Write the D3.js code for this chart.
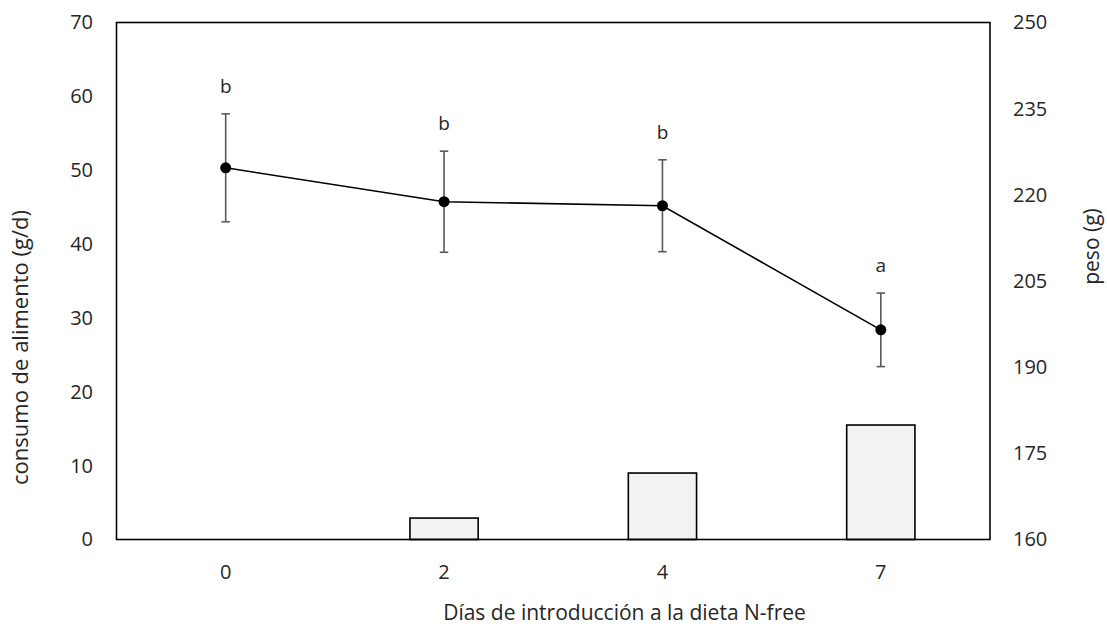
<!DOCTYPE html>
<html><head><meta charset="utf-8">
<script src="https://cdn.jsdelivr.net/npm/d3@7"></script>
<style>body{margin:0;background:#fff}text{font-family:"Open Sans",sans-serif;fill:#262626}</style>
</head><body><svg id="c" width="1107" height="628"></svg>
<script>
const days = ["0","2","4","7"];
const consumo = [0, 2.9, 9.0, 15.5];
const peso = [224.7, 218.8, 218.1, 196.5];
const pesoErr = [9.4, 8.8, 8.0, 6.4];
const letters = ["b","b","b","a"];
const leftTicks = [0,10,20,30,40,50,60,70];
const rightTicks = [160,175,190,205,220,235,250];

const svg = d3.select("#c");
const m = {l:116.5, r:990, t:22.5, b:539.5};
const x = d3.scaleBand().domain(days).range([m.l, m.r]);
const yL = d3.scaleLinear().domain([0,70]).range([m.b, m.t]);
const yR = d3.scaleLinear().domain([160,250]).range([m.b, m.t]);
const fs = 20;

// bars
const bw = x.bandwidth()*0.3125;
svg.selectAll("rect.bar").data(days).join("rect")
  .attr("x", d => x(d)+x.bandwidth()/2-bw/2)
  .attr("y", (d,i) => yL(consumo[i]))
  .attr("width", bw)
  .attr("height", (d,i) => yL(0)-yL(consumo[i]))
  .attr("fill", "#f2f2f2").attr("stroke", "#000").attr("stroke-width", 1.6);

// frame
svg.append("rect").attr("x", m.l).attr("y", m.t).attr("width", m.r-m.l).attr("height", m.b-m.t)
  .attr("fill","none").attr("stroke","#000").attr("stroke-width",1.6);

// axes
const axL = svg.append("g").attr("transform",`translate(${m.l},0)`)
  .call(d3.axisLeft(yL).tickValues(leftTicks).tickSize(0).tickPadding(23.5));
const axR = svg.append("g").attr("transform",`translate(${m.r},0)`)
  .call(d3.axisRight(yR).tickValues(rightTicks).tickSize(0).tickPadding(23));
const axB = svg.append("g").attr("transform",`translate(0,${m.b})`)
  .call(d3.axisBottom(x).tickSize(0).tickPadding(25));
[axL,axR,axB].forEach(a => { a.select(".domain").remove(); a.selectAll("text").attr("font-size",fs).attr("font-family","Open Sans").attr("fill","#262626"); });

const cx = d => x(d)+x.bandwidth()/2;
// error bars
const eb = svg.append("g").attr("stroke","#595959").attr("stroke-width",1.6);
days.forEach((d,i) => {
  const c = cx(d), t = yR(peso[i]+pesoErr[i]), b = yR(peso[i]-pesoErr[i]);
  eb.append("line").attr("x1",c).attr("x2",c).attr("y1",t).attr("y2",b);
  eb.append("line").attr("x1",c-4.2).attr("x2",c+4.2).attr("y1",t).attr("y2",t);
  eb.append("line").attr("x1",c-4.2).attr("x2",c+4.2).attr("y1",b).attr("y2",b);
});
// line
svg.append("path").datum(days)
  .attr("d", d3.line().x(d => cx(d)).y((d,i) => yR(peso[i])))
  .attr("fill","none").attr("stroke","#000").attr("stroke-width",1.6);
svg.selectAll("circle.pt").data(days).join("circle")
  .attr("cx", cx).attr("cy", (d,i) => yR(peso[i])).attr("r", 5.5).attr("fill","#000");
// letters
svg.selectAll("text.let").data(days).join("text")
  .attr("x", cx).attr("y", (d,i) => yR(peso[i]+pesoErr[i]) - 21)
  .attr("text-anchor","middle").attr("font-size",19).text((d,i) => letters[i]);

// titles
svg.append("text").attr("transform","translate(28,347.5) rotate(-90)")
  .attr("text-anchor","middle").attr("font-size",22).text("consumo de alimento (g/d)");
svg.append("text").attr("transform","translate(1099,246.5) rotate(-90)")
  .attr("text-anchor","middle").attr("font-size",21).text("peso (g)");
svg.append("text").attr("x",624.5).attr("y",620)
  .attr("text-anchor","middle").attr("font-size",21).text("Días de introducción a la dieta N-free");
</script></body></html>
